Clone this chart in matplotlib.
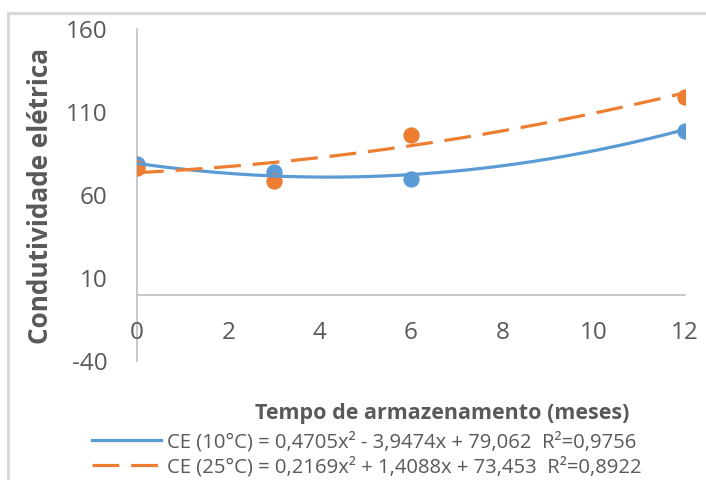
import numpy as np
import matplotlib
matplotlib.use("Agg")
import matplotlib.pyplot as plt
from matplotlib.patches import Rectangle

# storage time (months) and electrical conductivity
meses = [0, 3, 6, 12]
ce_10 = [78.5, 73.8, 69.5, 98.6]
ce_25 = [76.0, 68.5, 96.4, 119.3]

# trendline coefficients (x^2, x, 1) as shown in the legend
coef_10 = [0.4705, -3.9474, 79.062]
coef_25 = [0.2169, 1.4088, 73.453]
label_10 = "CE (10°C) = 0,4705x² - 3,9474x + 79,062  R²=0,9756"
label_25 = "CE (25°C) = 0,2169x² + 1,4088x + 73,453  R²=0,8922"

yticks = [-40, 10, 60, 110, 160]
xticks = [0, 2, 4, 6, 8, 10, 12]

azul = "#5B9BD5"
laranja = "#ED7D31"
cinza = "#595959"

plt.rcParams["font.family"] = ["Open Sans", "DejaVu Sans"]
plt.rcParams["axes.unicode_minus"] = False

fig = plt.figure(figsize=(7.06, 4.8), dpi=100)
fig.patches.append(Rectangle((8/706, -0.1), 1.2, 1 - 13/480 + 0.1, transform=fig.transFigure,
                             fill=False, edgecolor="#D9D9D9", linewidth=2.2))

ax = fig.add_axes([137/706, 1 - 361/480, 548/706, 332/480])

ax.scatter(meses, ce_10, s=115, color=azul, zorder=3)
ax.scatter(meses, ce_25, s=115, color=laranja, zorder=4)

xs = np.linspace(0, 12, 200)
l1, = ax.plot(xs, np.polyval(coef_10, xs), color=azul, lw=2.3, zorder=5, label=label_10)
l2, = ax.plot(xs, np.polyval(coef_25, xs), color=laranja, lw=2.3, dashes=(8.4, 3.7),
              zorder=5, label=label_25)

ax.set_xlim(0, 12)
ax.set_ylim(-40, 160)
ax.set_xticks(xticks)
ax.set_yticks(yticks)

for s in ["top", "right"]:
    ax.spines[s].set_visible(False)
ax.spines["bottom"].set_position(("data", 0))
for s in ["left", "bottom"]:
    ax.spines[s].set_color("#BFBFBF")
    ax.spines[s].set_linewidth(1.2)
    ax.spines[s].set_zorder(1)

ax.tick_params(axis="both", length=0, labelsize=17.5, labelcolor=cinza)
ax.tick_params(axis="x", pad=19)
ax.tick_params(axis="y", pad=21)
for t in ax.get_xticklabels() + ax.get_yticklabels():
    t.set_clip_on(False)

fig.text(41/706, 1 - 196/480, "Condutividade elétrica", rotation=90, ha="center", va="center",
         fontsize=18.8, fontweight="bold", color=cinza)
fig.text(442/706, 1 - 414/480, "Tempo de armazenamento (meses)", ha="center", va="center",
         fontsize=15.5, fontweight="bold", color=cinza)

leg = fig.legend(handles=[l1, l2], loc="center left", bbox_to_anchor=(92/706, 1 - 454.5/480),
                 frameon=False, fontsize=14.6, handlelength=3.4, handletextpad=0.3,
                 labelspacing=0.22, borderaxespad=0, borderpad=0)
for t in leg.get_texts():
    t.set_color(cinza)

fig.savefig("out.png", dpi=100)
